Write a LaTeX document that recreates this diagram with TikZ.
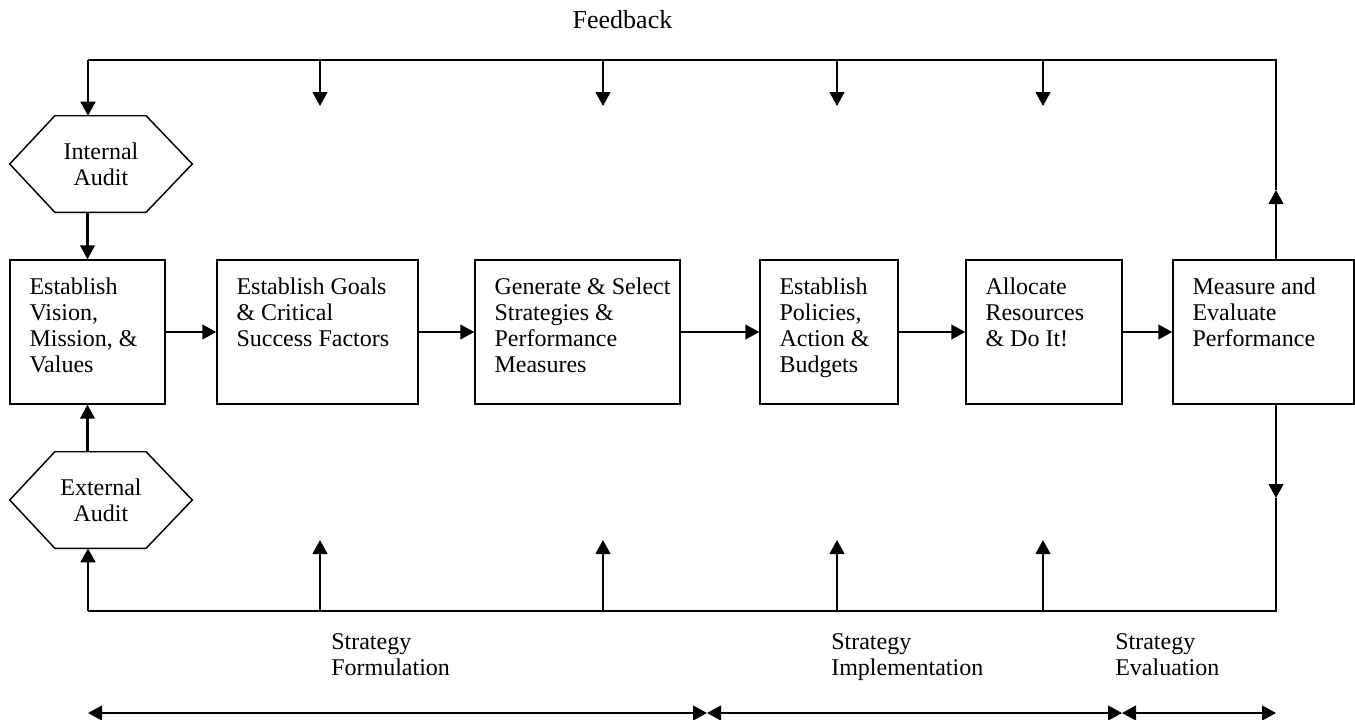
\documentclass[tikz,border=0pt]{standalone}
\usepackage{fontspec}
\setmainfont{Liberation Serif}
\usetikzlibrary{calc,arrows.meta}
\newcommand{\ptxt}[2]{\parbox[t]{#1}{\raggedright #2}}
\begin{document}
\begin{tikzpicture}[x=0.75pt,y=-0.75pt,
  every node/.style={font=\fontsize{18pt}{19.5pt}\selectfont},
  boxnode/.style={draw, line width=1.1pt, minimum height=108pt, inner sep=0pt},
  txt/.style={anchor=base west, inner sep=0pt},
  hexnode/.style={minimum width=136.5pt, minimum height=72pt, inner sep=0pt, align=center},
  hexline/.style={line width=1.1pt, line join=miter},
  arr/.style={line width=1.7pt, -{Triangle[length=10.5pt,width=11pt]}},
  dbl/.style={line width=1.7pt, {Triangle[length=10.5pt,width=11pt]}-{Triangle[length=10.5pt,width=11pt]}},
  fb/.style={line width=1.1pt}]
\useasboundingbox (0,0) rectangle (1355,719);

% boxes
\node[boxnode, minimum width=116.25pt] (b1) at (87.5,332) {};
\node[boxnode, minimum width=150.75pt] (b2) at (317.5,332) {};
\node[boxnode, minimum width=153.75pt] (b3) at (577.5,332) {};
\node[boxnode, minimum width=103.5pt] (b4) at (829,332) {};
\node[boxnode, minimum width=117pt] (b5) at (1044,332) {};
\node[boxnode, minimum width=135.75pt] (b6) at (1263.5,332) {};

\node[txt] (t1) at ($(b1.north west)+(20,35)$) {\ptxt{110pt}{Establish\\Vision,\\Mission, \&\\Values}};
\node[txt] (t2) at ($(b2.north west)+(20,35)$) {\ptxt{140pt}{Establish Goals\\\& Critical\\Success Factors}};
\node[txt] (t3) at ($(b3.north west)+(20,35)$) {\ptxt{140pt}{Generate \& Select\\Strategies \&\\Performance\\Measures}};
\node[txt] (t4) at ($(b4.north west)+(20,35)$) {\ptxt{100pt}{Establish\\Policies,\\Action \&\\Budgets}};
\node[txt] (t5) at ($(b5.north west)+(20,35)$) {\ptxt{110pt}{Allocate\\Resources\\\& Do It!}};
\node[txt] (t6) at ($(b6.north west)+(20,35)$) {\ptxt{130pt}{Measure and\\Evaluate\\Performance}};

% hexagons
\node[hexnode] (ia) at (101,164) {Internal\\Audit};
\node[hexnode] (ea) at (101,500) {External\\Audit};
\foreach \h in {ia,ea}{
  \draw[hexline] (\h.west) -- ($(\h.north west)!0.247!(\h.north east)$) -- ($(\h.north west)!0.747!(\h.north east)$) -- (\h.east) -- ($(\h.south west)!0.747!(\h.south east)$) -- ($(\h.south west)!0.247!(\h.south east)$) -- cycle;
}

% main chain
\draw[arr] (b1) -- (b2);
\draw[arr] (b2) -- (b3);
\draw[arr] (b3) -- (b4);
\draw[arr] (b4) -- (b5);
\draw[arr] (b5) -- (b6);
\draw[arr] (b1.north |- ia.south) -- (b1.north);
\draw[arr] (b1.south |- ea.north) -- (b1.south);

% feedback loop (top)
\coordinate (tl) at (88,60);
\coordinate (tr) at (1276,60);
\coordinate (ur) at (1276,190);
\draw[arr] (b6.north -| ur) -- (ur);
\draw[fb] (ur) -- (tr) -- (tl);
\draw[arr] (tl) -- (tl |- ia.north);
\foreach \x [count=\i] in {320,603,837,1043}{
  \coordinate (ft\i) at (\x,60);
  \coordinate (fd\i) at (\x,106);
  \draw[arr] (ft\i) -- (fd\i);
}
\node[anchor=base, font=\fontsize{19.5pt}{21pt}\selectfont] (fbk) at (622.5,28) {Feedback};

% bottom loop
\coordinate (bl) at (88,611);
\coordinate (br) at (1276,611);
\coordinate (dr) at (1276,498);
\draw[arr] (b6.south -| dr) -- (dr);
\draw[fb] (dr) -- (br) -- (bl);
\draw[arr] (bl) -- (bl |- ea.south);
\foreach \x [count=\i] in {320,603,837,1043}{
  \coordinate (bt\i) at (\x,611);
  \coordinate (bu\i) at (\x,540);
  \draw[arr] (bt\i) -- (bu\i);
}

% phase labels
\node[txt] (sf) at (331,649) {\ptxt{130pt}{Strategy\\Formulation}};
\node[txt] (si) at (831,649) {\ptxt{130pt}{Strategy\\Implementation}};
\node[txt] (se) at (1115,649) {\ptxt{130pt}{Strategy\\Evaluation}};

% phase spans
\coordinate (s0) at (88,713);
\coordinate (s1) at (707,713);
\coordinate (s2) at (1122,713);
\coordinate (s3) at (1276,713);
\draw[dbl] (s0) -- (s1);
\draw[dbl] (s1) -- (s2);
\draw[dbl] (s2) -- (s3);
\end{tikzpicture}
\end{document}
